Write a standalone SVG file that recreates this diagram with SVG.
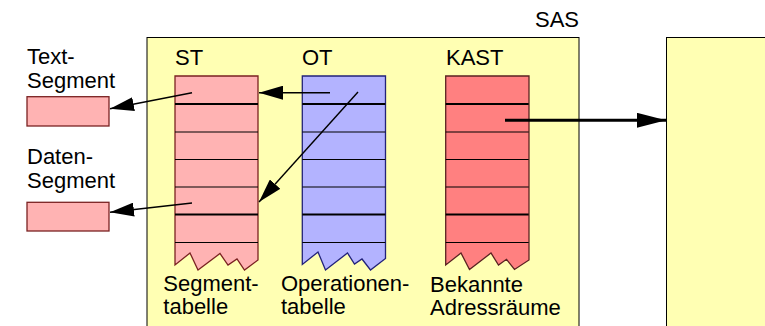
<svg xmlns="http://www.w3.org/2000/svg" width="765" height="326" viewBox="0 0 765 326">
<defs>
<style>
text{font-family:"Liberation Sans",Arial,sans-serif;font-size:22px;fill:#000}
.area{fill:#ffffb3;stroke:#000;stroke-width:1}
.st{fill:#ffb3b3;stroke:#7a2222;stroke-width:1.3}
.ot{fill:#b3b3ff;stroke:#22227a;stroke-width:1.3}
.kast{fill:#ff8080;stroke:#5a2222;stroke-width:1.3}
.row{stroke:#000;stroke-width:1.2}
.rowb{stroke:#000;stroke-width:2}
.con{stroke:#000;stroke-width:1.4;fill:none}
.conb{stroke:#000;stroke-width:3;fill:none}
</style>
<marker id="ah" markerUnits="userSpaceOnUse" viewBox="0 0 24 14" refX="24" refY="7" markerWidth="24" markerHeight="14" orient="auto">
<path d="M0,0 L24,7 L0,14 z" fill="#000"/>
</marker>
<marker id="ahb" markerUnits="userSpaceOnUse" viewBox="0 0 29 15" refX="29" refY="7.5" markerWidth="29" markerHeight="15" orient="auto">
<path d="M0,0 L29,7.5 L0,15 z" fill="#000"/>
</marker>
<g id="rows">
<line x1="0" y1="104" x2="83" y2="104" class="rowb"/>
<line x1="0" y1="132" x2="83" y2="132" class="row"/>
<line x1="0" y1="159.5" x2="83" y2="159.5" class="row"/>
<line x1="0" y1="187" x2="83" y2="187" class="row"/>
<line x1="0" y1="214.5" x2="83" y2="214.5" class="rowb"/>
<line x1="0" y1="242.5" x2="83" y2="242.5" class="row"/>
</g>
</defs>

<g id="sas">
<rect class="area" x="147" y="37.5" width="432" height="300"/>
<text x="579" y="26.5" text-anchor="end">SAS</text>
</g>

<g id="target">
<rect class="area" x="666.5" y="37.5" width="120" height="300"/>
</g>

<g id="text-segment">
<text x="27" y="63.5">Text-</text>
<text x="27" y="88">Segment</text>
<rect class="st" x="27" y="96.7" width="82" height="29.3"/>
</g>

<g id="daten-segment">
<text x="27" y="164">Daten-</text>
<text x="27" y="187.5">Segment</text>
<rect class="st" x="27" y="202.3" width="82" height="28.7"/>
</g>

<g id="st">
<text x="175" y="65">ST</text>
<polygon class="st" points="175,76 258,76 258,260 244.5,270 237,259 228,265 220,253.5 198,270 190,253 175,265"/>
<use href="#rows" x="175"/>
<text x="163.3" y="291">Segment-</text>
<text x="163.3" y="314">tabelle</text>
</g>

<g id="ot">
<text x="302" y="65">OT</text>
<polygon class="ot" points="302.3,76 385.5,76 385.5,258.5 370.5,270 362,259 354.5,264 347.5,253 325.5,270 318,252 302.3,264.5"/>
<use href="#rows" x="302.3"/>
<text x="281" y="291">Operationen-</text>
<text x="281" y="314">tabelle</text>
</g>

<g id="kast">
<text x="446" y="65">KAST</text>
<polygon class="kast" points="445.7,76 529,76 529,260 514.5,269.5 506.5,259.3 498.5,265 491,253 469.5,269.5 461,253 445.7,265"/>
<use href="#rows" x="445.7"/>
<text x="430" y="292">Bekannte</text>
<text x="430" y="315">Adressräume</text>
</g>

<g id="connectors">
<line class="con" x1="192" y1="92.7" x2="110" y2="108.7" marker-end="url(#ah)"/>
<line class="con" x1="330" y1="92.7" x2="259" y2="92.7" marker-end="url(#ah)"/>
<line class="con" x1="358" y1="92" x2="259" y2="202" marker-end="url(#ah)"/>
<line class="con" x1="192" y1="203" x2="110" y2="212.3" marker-end="url(#ah)"/>
<line class="conb" x1="505" y1="120.3" x2="666" y2="120.3" marker-end="url(#ahb)"/>
</g>
</svg>
